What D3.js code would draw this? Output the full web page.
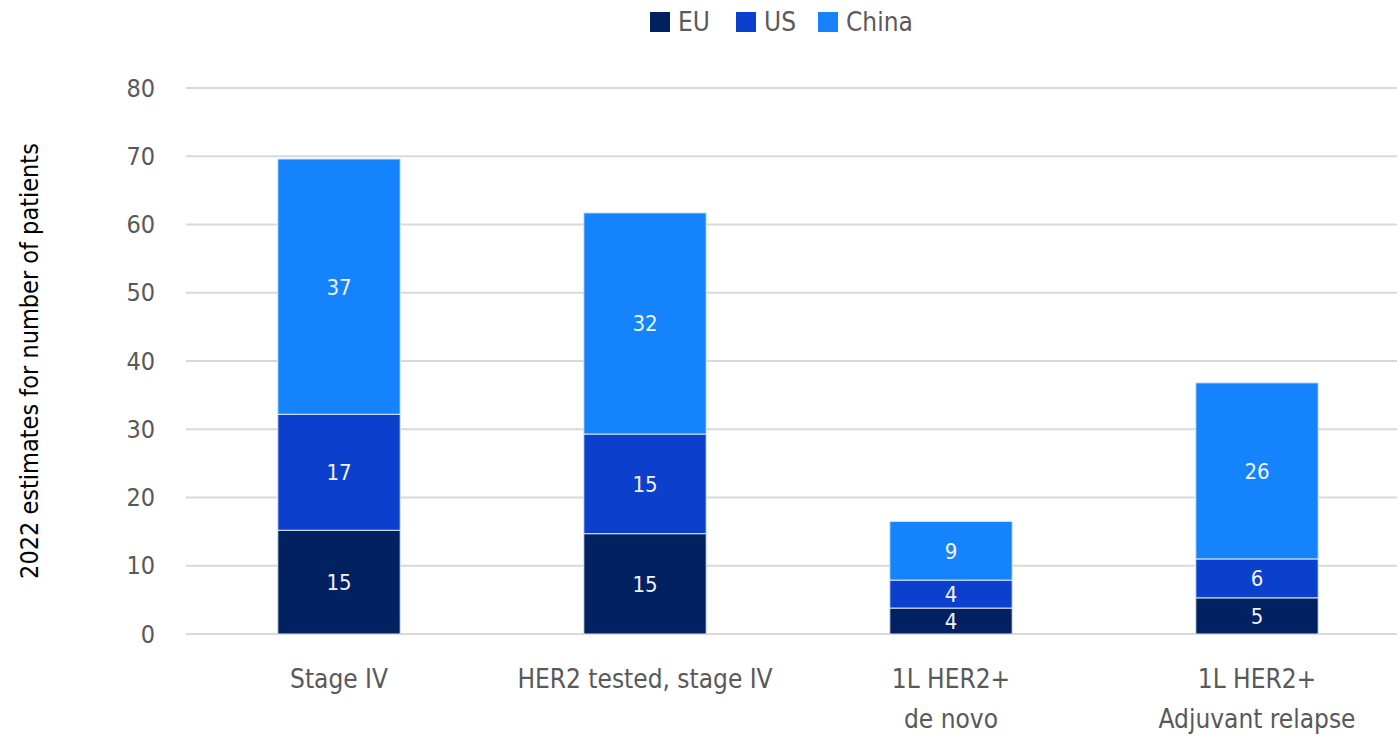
<!DOCTYPE html>
<html>
<head>
<meta charset="utf-8">
<script src="https://cdn.jsdelivr.net/npm/d3@7"></script>
<style>
  body { margin: 0; background: #fff; }
  text { font-family: "Liberation Sans Narrow", "DejaVu Sans Condensed", "Roboto", sans-serif; }
</style>
</head>
<body>
<div id="chart"></div>
<script>
var categories = [["Stage IV"], ["HER2 tested, stage IV"], ["1L HER2+", "de novo"], ["1L HER2+", "Adjuvant relapse"]];
var seriesNames = ["EU", "US", "China"];
var eu = [15.2, 14.7, 3.8, 5.3];
var us = [17.0, 14.6, 4.1, 5.7];
var china = [37.4, 32.4, 8.6, 25.8];
var yTicks = [0, 10, 20, 30, 40, 50, 60, 70, 80];
var colors = ["#012160", "#0b40cc", "#1583fb"];

var width = 1397, height = 739;
var margin = {top: 88, left: 186, bottom: 105};

var svg = d3.select("#chart").append("svg")
    .attr("width", width)
    .attr("height", height);

var rows = categories.map(function(c, i) {
    return {key: i, EU: eu[i], US: us[i], China: china[i]};
});

var x = d3.scaleBand()
    .domain(d3.range(categories.length))
    .range([margin.left, margin.left + 306 * categories.length])
    .paddingInner(0.6)
    .paddingOuter(0.3);

var y = d3.scaleLinear()
    .domain([0, 80])
    .range([height - margin.bottom, margin.top]);

// grid
svg.append("g").selectAll("line")
    .data(yTicks)
    .enter().append("line")
    .attr("x1", margin.left)
    .attr("x2", width)
    .attr("y1", function(d) { return y(d); })
    .attr("y2", function(d) { return y(d); })
    .attr("stroke", "#d9d9d9")
    .attr("stroke-width", 2);

// y axis labels
var yAxis = d3.axisLeft(y).tickValues(yTicks).tickSize(0).tickPadding(0);
var yg = svg.append("g")
    .attr("transform", "translate(155,0)")
    .call(yAxis);
yg.select(".domain").remove();
yg.selectAll("text")
    .attr("fill", "#595959")
    .style("font-size", "25px");

svg.append("text")
    .attr("transform", "translate(38," + y(40) + ") rotate(-90)")
    .attr("text-anchor", "middle")
    .attr("fill", "#000")
    .style("font-size", "25px")
    .text("2022 estimates for number of patients");

// bars
var stack = d3.stack().keys(seriesNames)(rows);

var layers = svg.append("g").selectAll("g")
    .data(stack)
    .enter().append("g")
    .attr("fill", function(d, i) { return colors[i]; });

layers.selectAll("rect")
    .data(function(d) { return d; })
    .enter().append("rect")
    .attr("x", function(d) { return x(d.data.key); })
    .attr("width", x.bandwidth())
    .attr("y", function(d) { return y(d[1]); })
    .attr("height", function(d) { return y(d[0]) - y(d[1]); })
    .attr("stroke", "#dbe6f5")
    .attr("stroke-width", 1);

layers.selectAll("text")
    .data(function(d) { return d; })
    .enter().append("text")
    .attr("x", function(d) { return x(d.data.key) + x.bandwidth() / 2; })
    .attr("y", function(d) { return (y(d[0]) + y(d[1])) / 2; })
    .attr("dy", "0.36em")
    .attr("text-anchor", "middle")
    .attr("fill", "#f2f2f2")
    .style("font-size", "22px")
    .text(function(d) { return Math.round(d[1] - d[0]); });

// x labels
var xl = svg.append("g").selectAll("text")
    .data(categories)
    .enter().append("text")
    .attr("x", function(d, i) { return x(i) + x.bandwidth() / 2; })
    .attr("y", 688)
    .attr("text-anchor", "middle")
    .attr("fill", "#595959")
    .style("font-size", "26px");
xl.selectAll("tspan")
    .data(function(d) { return d; })
    .enter().append("tspan")
    .attr("x", function() { return d3.select(this.parentNode).attr("x"); })
    .attr("dy", function(d, i) { return i === 0 ? 0 : 40; })
    .text(function(d) { return d; });

// legend
var legendX = [650, 736, 818];
var lg = svg.append("g").selectAll("g")
    .data(seriesNames)
    .enter().append("g")
    .attr("transform", function(d, i) { return "translate(" + legendX[i] + ",12)"; });
lg.append("rect")
    .attr("width", 20)
    .attr("height", 20)
    .attr("fill", function(d, i) { return colors[i]; });
lg.append("text")
    .attr("x", 28)
    .attr("y", 10)
    .attr("dy", "0.36em")
    .attr("fill", "#595959")
    .style("font-size", "26px")
    .text(function(d) { return d; });
</script>
</body>
</html>
